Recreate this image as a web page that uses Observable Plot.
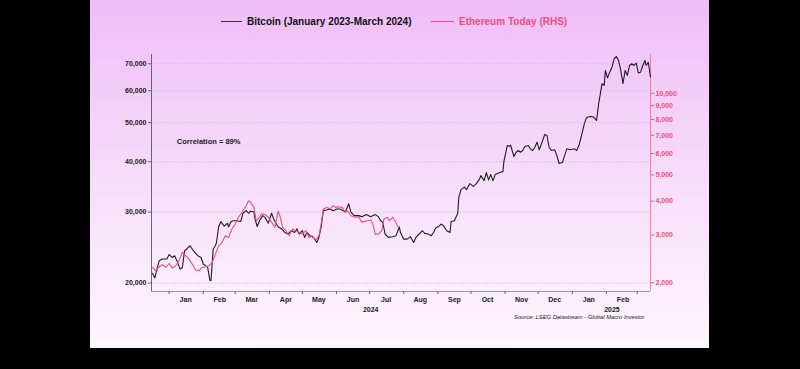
<!DOCTYPE html>
<html>
<head>
<meta charset="utf-8">
<script src="https://cdn.jsdelivr.net/npm/d3@7"></script>
<script src="https://cdn.jsdelivr.net/npm/@observablehq/plot@0.6"></script>
<style>
  html, body { margin: 0; padding: 0; background: #000; width: 800px; height: 369px; overflow: hidden; }
  #panel { position: absolute; left: 90px; top: 0; width: 619px; height: 348px;
    background: linear-gradient(to bottom, rgb(239,189,248) 0%, rgb(246,220,250) 50%, rgb(253,246,253) 100%);
    font-family: "Liberation Sans", Arial, sans-serif; }
  #legend { position: relative; height: 40px; }
  .lg { position: absolute; top: 16px; display: flex; align-items: center; font-size: 10px; font-weight: bold; white-space: nowrap; }
  .sw { display: inline-block; height: 0; border-top: 1.2px solid; margin-right: 5px; }
  #plot svg { display: block; }
</style>
</head>
<body>
<div id="panel">
  <div id="legend">
    <div class="lg" style="left:131px;color:#111"><span class="sw" style="width:21px;border-color:#333"></span>Bitcoin (January 2023-March 2024)</div>
    <div class="lg" style="left:341px;color:#ec4f7d"><span class="sw" style="width:23px;border-color:#ec4f7d"></span>Ethereum Today (RHS)</div>
  </div>
  <div id="plot"></div>
</div>
<script>
// ---- data ----
const btcDates = ["2023-12-17","2023-12-19","2023-12-23","2023-12-26","2023-12-30","2024-01-01","2024-01-04","2024-01-06","2024-01-08","2024-01-11","2024-01-13","2024-01-15","2024-01-17","2024-01-20","2024-01-23","2024-01-27","2024-01-30","2024-02-01","2024-02-05","2024-02-07","2024-02-08","2024-02-10","2024-02-12","2024-02-13","2024-02-15","2024-02-17","2024-02-20","2024-02-23","2024-02-24","2024-02-26","2024-02-28","2024-03-02","2024-03-06","2024-03-08","2024-03-11","2024-03-13","2024-03-15","2024-03-18","2024-03-19","2024-03-21","2024-03-23","2024-03-26","2024-03-28","2024-03-31","2024-04-03","2024-04-05","2024-04-07","2024-04-09","2024-04-12","2024-04-15","2024-04-18","2024-04-21","2024-04-24","2024-04-26","2024-04-28","2024-05-01","2024-05-03","2024-05-05","2024-05-08","2024-05-11","2024-05-14","2024-05-16","2024-05-18","2024-05-20","2024-05-23","2024-05-26","2024-05-29","2024-06-01","2024-06-04","2024-06-07","2024-06-09","2024-06-12","2024-06-14","2024-06-17","2024-06-21","2024-06-24","2024-06-28","2024-07-02","2024-07-06","2024-07-09","2024-07-11","2024-07-13","2024-07-15","2024-07-18","2024-07-22","2024-07-25","2024-07-28","2024-07-29","2024-08-01","2024-08-04","2024-08-07","2024-08-10","2024-08-12","2024-08-15","2024-08-18","2024-08-20","2024-08-23","2024-08-26","2024-08-28","2024-08-30","2024-09-02","2024-09-04","2024-09-06","2024-09-09","2024-09-12","2024-09-13","2024-09-16","2024-09-19","2024-09-20","2024-09-22","2024-09-25","2024-09-27","2024-09-30","2024-10-03","2024-10-06","2024-10-09","2024-10-10","2024-10-13","2024-10-15","2024-10-17","2024-10-19","2024-10-21","2024-10-23","2024-10-27","2024-10-30","2024-10-31","2024-11-03","2024-11-05","2024-11-06","2024-11-09","2024-11-11","2024-11-13","2024-11-15","2024-11-17","2024-11-19","2024-11-22","2024-11-24","2024-11-26","2024-11-28","2024-11-30","2024-12-02","2024-12-04","2024-12-07","2024-12-09","2024-12-11","2024-12-13","2024-12-16","2024-12-18","2024-12-20","2024-12-23","2024-12-25","2024-12-27","2024-12-30","2025-01-03","2025-01-05","2025-01-07","2025-01-09","2025-01-12","2025-01-14","2025-01-17","2025-01-20","2025-01-23","2025-01-25","2025-01-28","2025-01-30","2025-01-31","2025-02-02","2025-02-04","2025-02-06","2025-02-08","2025-02-10","2025-02-12","2025-02-14","2025-02-16","2025-02-18","2025-02-20","2025-02-22","2025-02-24","2025-02-26","2025-02-28","2025-03-02","2025-03-04","2025-03-06","2025-03-08","2025-03-09","2025-03-11","2025-03-13"];
const btcValues = [21150,20600,22730,22950,22950,23540,23150,23380,22730,21670,21830,24060,24300,24750,24060,23380,23150,22300,21880,20320,20270,24300,24750,25220,27630,28400,27680,28150,27560,28400,28560,28560,28420,29800,30250,29800,30150,30000,28800,27630,28560,29400,29100,28150,29800,28800,28150,27560,27280,26700,26470,26970,26700,27280,26470,26970,25960,26700,26220,25960,25220,25960,27560,30250,30370,30540,30250,30540,30540,30250,30000,31470,30000,29400,29400,29230,29570,29230,29570,29230,28560,28280,26470,25960,26070,26220,27560,26700,25700,25700,26070,25220,25960,26470,26970,26560,26470,26220,26700,27400,27680,28020,27760,26970,26700,28440,28560,29800,32630,34100,34610,34100,35300,34750,35300,36310,36950,35910,37600,36060,37170,35910,37170,37600,37800,40190,43870,43700,43950,41190,42220,42640,42220,42640,43620,43870,43060,42640,43450,44730,42820,44300,46720,46460,43450,42640,42820,41430,39600,39830,41430,43060,42820,43060,42640,43870,46000,49800,51520,51800,51700,50630,55800,62470,61840,67370,64560,66720,68650,72000,73000,71330,67370,62470,67370,65470,69320,70000,69320,70250,66400,66720,69320,71330,69320,70600,64900];

const ethDates = ["2023-12-17","2023-12-20","2023-12-23","2023-12-26","2023-12-29","2024-01-01","2024-01-04","2024-01-07","2024-01-10","2024-01-13","2024-01-16","2024-01-19","2024-01-22","2024-01-25","2024-01-28","2024-01-31","2024-02-03","2024-02-06","2024-02-09","2024-02-12","2024-02-15","2024-02-18","2024-02-21","2024-02-24","2024-02-27","2024-03-01","2024-03-04","2024-03-07","2024-03-11","2024-03-13","2024-03-15","2024-03-18","2024-03-20","2024-03-23","2024-03-25","2024-03-28","2024-03-31","2024-04-03","2024-04-06","2024-04-09","2024-04-11","2024-04-13","2024-04-16","2024-04-19","2024-04-22","2024-04-25","2024-04-28","2024-05-01","2024-05-04","2024-05-07","2024-05-10","2024-05-13","2024-05-16","2024-05-18","2024-05-20","2024-05-23","2024-05-26","2024-05-29","2024-05-31","2024-06-03","2024-06-06","2024-06-09","2024-06-11","2024-06-14","2024-06-18","2024-06-21","2024-06-24","2024-06-27","2024-06-29","2024-07-02","2024-07-04","2024-07-06","2024-07-09","2024-07-12","2024-07-14","2024-07-17","2024-07-19","2024-07-22","2024-07-24","2024-07-27"];
const ethValues = [2278,2215,2292,2330,2278,2356,2266,2311,2411,2588,2516,2445,2344,2228,2215,2278,2292,2311,2375,2551,2738,2817,2982,2940,3157,3295,3488,3640,3848,4014,3957,3793,3387,3488,3590,3570,3488,3348,3201,3672,3488,3201,3111,2982,3157,3111,3067,3024,3111,2940,2982,2873,2982,3295,3743,3793,3743,3848,3793,3815,3793,3640,3688,3534,3488,3507,3348,3376,3387,3410,3295,3024,3024,3111,3438,3488,3387,3488,3387,3201];

const btcTicks = [20000, 30000, 40000, 50000, 60000, 70000];
const ethTicks = [2000, 3000, 4000, 5000, 6000, 7000, 8000, 9000, 10000];
const monthLabelDates = ["2024-01-16","2024-02-16","2024-03-16","2024-04-16","2024-05-16","2024-06-16","2024-07-16","2024-08-16","2024-09-16","2024-10-16","2024-11-16","2024-12-16","2025-01-16","2025-02-16"];
const yearLabels = ["2024", "2025"];
const yearLabelDates = ["2024-07-02", "2025-02-06"];
const annotationText = ["Correlation = 89%"];
const annotationDate = ["2024-01-08"];
const annotationValue = [44800];
const sourceText = ["Source: LSEG Datastream - Global Macro Investor"];

// ---- scales ----
const xDomain = [new Date("2023-12-16"), new Date("2025-03-13")];
const btcDomain = [19060, 73800];
const ethDomain = [1857, 13900];
const ethLog = d3.scaleLog().domain(ethDomain).range(btcDomain.map(Math.log));
const ethToBtc = e => Math.exp(ethLog(e));
const btcToEth = b => ethLog.invert(Math.log(b));

const btc = btcDates.map((d, i) => ({date: new Date(d), value: btcValues[i]}));
const eth = ethDates.map((d, i) => ({date: new Date(d), value: ethValues[i]}));
const months = monthLabelDates.map(d => new Date(d));
const years = yearLabels.map((t, i) => ({date: new Date(yearLabelDates[i]), text: t}));
const annots = annotationText.map((t, i) => ({date: new Date(annotationDate[i]), value: annotationValue[i], text: t}));

const pink = "#ec4f7d";
const fmt = d3.format(",");

const chart = Plot.plot({
  width: 619, height: 308,
  marginTop: 14, marginBottom: 57, marginLeft: 61, marginRight: 59,
  style: {background: "transparent", fontFamily: "'Liberation Sans', Arial, sans-serif", overflow: "visible"},
  x: {type: "utc", domain: xDomain},
  y: {type: "log", domain: btcDomain},
  marks: [
    Plot.ruleY(btcTicks, {stroke: "#cdbcd2", strokeWidth: 0.8, strokeDasharray: "1.5,1.5"}),
    Plot.ruleX([xDomain[0]], {stroke: "#666", strokeWidth: 1}),
    Plot.ruleX([xDomain[1]], {stroke: "#f07fa0", strokeWidth: 1}),
    Plot.ruleY([btcDomain[0]], {stroke: "#999", strokeWidth: 1}),
    Plot.axisY(btcTicks, {anchor: "left", tickSize: 3, tickPadding: 2, tickFormat: fmt, fontSize: 7, fontWeight: "bold", stroke: "#666", fill: "#1a1a1a", label: null}),
    Plot.axisY(ethTicks.map(ethToBtc), {anchor: "right", tickSize: 3, tickPadding: 2, tickFormat: d => fmt(Math.round(btcToEth(d))), fontSize: 7, fontWeight: "bold", stroke: pink, fill: pink, label: null}),
    Plot.axisX({ticks: d3.utcMonth.every(1), tickSize: 3, tickFormat: () => "", stroke: "#666", label: null}),
    Plot.axisX(months, {tickSize: 0, tickPadding: 6, tickFormat: d3.utcFormat("%b"), fontSize: 7, fontWeight: "bold", fill: "#1a1a1a", label: null}),
    Plot.text(years, {x: "date", text: "text", frameAnchor: "bottom", dy: 20, fontSize: 7, fontWeight: "bold", fill: "#1a1a1a"}),
    Plot.text(sourceText, {text: d => d, frameAnchor: "bottom-right", textAnchor: "end", dx: -6, dy: 27, fontSize: 5.8, fontStyle: "italic", fill: "#1a1a1a"}),
    Plot.text(annots, {x: "date", y: "value", text: "text", textAnchor: "start", fontSize: 7.5, fontWeight: "bold", fill: "#1a1a1a"}),
    Plot.lineY(btc, {x: "date", y: "value", stroke: "#1e1e1e", strokeWidth: 1.1}),
    Plot.lineY(eth, {x: "date", y: d => ethToBtc(d.value), stroke: pink, strokeWidth: 1.1})
  ]
});
document.getElementById("plot").appendChild(chart);
</script>
</body>
</html>
